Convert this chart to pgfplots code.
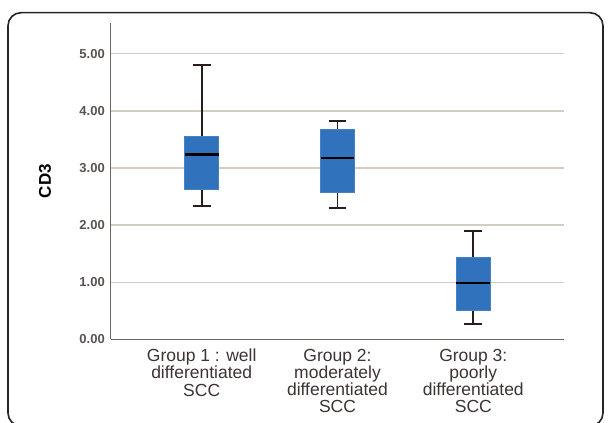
\documentclass[border=0pt]{standalone}
\usepackage{fontspec}
\setmainfont{Liberation Sans}
\usepackage{pgfplots}
\pgfplotsset{compat=1.18}
\usepgfplotslibrary{statistics}
\definecolor{boxblue}{RGB}{49,114,189}
\definecolor{boxedge}{RGB}{70,130,200}
\definecolor{whisk}{RGB}{40,28,28}
\definecolor{axcol}{RGB}{110,100,96}
\definecolor{gridcol}{RGB}{212,205,198}
\definecolor{txt}{RGB}{60,52,50}
\begin{document}
\begin{tikzpicture}[x=1pt,y=1pt]
\useasboundingbox (0,0) rectangle (608,423);
\draw[line width=1.6pt, color=black!85, rounded corners=13pt] (8,410.3) rectangle (603,-3);
\begin{axis}[
  at={(110.7pt,83.7pt)}, anchor=south west,
  scale only axis, width=453.6pt, height=316.6pt,
  xmin=0.33, xmax=3.67, ymin=0, ymax=5.545,
  axis lines=left, axis line style={draw=axcol, line width=1.3pt, -},
  major tick length=0pt,
  xtick={1,2,3},
  xticklabels={{Group 1 : well\\differentiated\\SCC},{Group 2:\\moderately\\differentiated\\SCC},{Group 3:\\poorly\\differentiated\\SCC}},
  xticklabel style={align=center, font=\fontsize{17.5}{17.3}\selectfont, text=txt, anchor=north, yshift=-6pt},
  ytick={0,1,2,3,4,5},
  yticklabels={0.00,1.00,2.00,3.00,4.00,5.00},
  yticklabel style={font=\fontsize{13}{14}\selectfont\bfseries, text=txt!85!white, anchor=east, xshift=-2.4pt},
  ymajorgrids, grid style={draw=gridcol, line width=1.3pt},
  ylabel={CD3},
  ylabel style={at={(axis description cs:-0.145,0.5)}, anchor=center, font=\fontsize{17}{18}\selectfont\bfseries, text=black},
  clip=false,
  boxplot/draw direction=y,
]
\addplot[draw=whisk, line width=1.8pt,
  boxplot/every box/.style={fill=boxblue, draw=boxedge, line width=0.8pt},
  boxplot/every median/.style={draw=black, line width=2.4pt},
  boxplot prepared={lower whisker=2.33, lower quartile=2.62, median=3.24, upper quartile=3.56, upper whisker=4.80, draw position=1, box extend=0.25, whisker extend=0.13}]
  coordinates {};
\addplot[draw=whisk, line width=1.8pt,
  boxplot/every box/.style={fill=boxblue, draw=boxedge, line width=0.8pt},
  boxplot/every median/.style={draw=black, line width=2.4pt},
  boxplot prepared={lower whisker=2.30, lower quartile=2.58, median=3.17, upper quartile=3.68, upper whisker=3.82, draw position=2, box extend=0.25, whisker extend=0.13}]
  coordinates {};
\addplot[draw=whisk, line width=1.8pt,
  boxplot/every box/.style={fill=boxblue, draw=boxedge, line width=0.8pt},
  boxplot/every median/.style={draw=black, line width=2.4pt},
  boxplot prepared={lower whisker=0.27, lower quartile=0.51, median=0.99, upper quartile=1.43, upper whisker=1.89, draw position=3, box extend=0.25, whisker extend=0.13}]
  coordinates {};
\end{axis}
\end{tikzpicture}
\end{document}
